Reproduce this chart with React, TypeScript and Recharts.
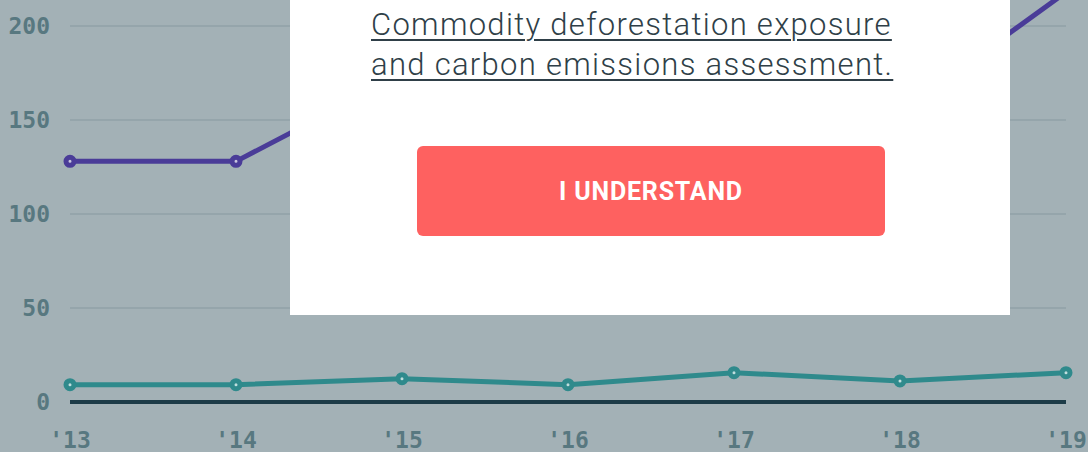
import React from "react";
import { LineChart, Line, XAxis, YAxis, CartesianGrid } from "recharts";

// years along the bottom axis
const years = ["'13", "'14", "'15", "'16", "'17", "'18", "'19"];
// upper (purple) series - middle values sit behind the notice and are estimates
const exposure = [128, 128, 174, 168, 160, 154, 218];
// lower (teal) series
const emissions = [9.2, 9.2, 12.4, 9.2, 15.6, 11.2, 15.6];
const yTicks = [0, 50, 100, 150, 200];

const data = years.map((year, i) => ({
  year,
  exposure: exposure[i],
  emissions: emissions[i],
}));

const BG = "#a3b1b6";
const PURPLE = "#4a3c98";
const TEAL = "#2f8a8c";
const TICK = "#587880";
const tickFont = { fontFamily: "DejaVu Sans Mono", fontWeight: 700, fontSize: 23, fill: TICK };

export default function App() {
  return (
    <div
      style={{
        position: "fixed",
        top: 0,
        left: 0,
        width: 1088,
        height: 452,
        overflow: "hidden",
        background: BG,
      }}
    >
      <div style={{ position: "absolute", top: -73, left: 0 }}>
        <LineChart width={1088} height={525} data={data} margin={{ top: 5, right: 22, bottom: 0, left: 0 }}>
          <CartesianGrid vertical={false} stroke="#95a5ab" strokeWidth={2} />
          <XAxis
            dataKey="year"
            interval={0}
            padding={{ left: 0, right: 0 }}
            height={50}
            tickLine={false}
            tickSize={0}
            tickMargin={30}
            axisLine={{ stroke: "#1d3c48", strokeWidth: 4 }}
            tick={tickFont}
          />
          <YAxis
            domain={[0, 250]}
            ticks={yTicks}
            width={70}
            axisLine={false}
            tickLine={false}
            tickSize={0}
            tickMargin={20}
            tick={tickFont}
          />
          <Line
            dataKey="exposure"
            stroke={PURPLE}
            strokeWidth={5}
            dot={{ r: 4, fill: "#c9c6e0", stroke: PURPLE, strokeWidth: 5 }}
            isAnimationActive={false}
          />
          <Line
            dataKey="emissions"
            stroke={TEAL}
            strokeWidth={5}
            dot={{ r: 4, fill: "#bfdede", stroke: TEAL, strokeWidth: 5 }}
            isAnimationActive={false}
          />
        </LineChart>
      </div>
      <div
        style={{
          position: "absolute",
          left: 290,
          top: 0,
          width: 720,
          height: 315,
          background: "#ffffff",
        }}
      >
        <div
          style={{
            position: "absolute",
            left: 81,
            top: 5,
            fontFamily: "Roboto",
            fontWeight: 300,
            fontSize: 31,
            letterSpacing: 1.3,
            lineHeight: "40px",
            color: "#2f3f48",
            textDecoration: "underline",
            textDecorationThickness: 2,
            textUnderlineOffset: 4,
            whiteSpace: "nowrap",
          }}
        >
          Commodity deforestation exposure
          <br />
          and carbon emissions assessment.
        </div>
        <div
          style={{
            position: "absolute",
            left: 127,
            top: 146,
            width: 468,
            height: 90,
            borderRadius: 6,
            background: "#fe6160",
            color: "#ffffff",
            fontFamily: "Roboto",
            fontWeight: 700,
            fontSize: 25,
            letterSpacing: 0.8,
            display: "flex",
            alignItems: "center",
            justifyContent: "center",
          }}
        >
          I UNDERSTAND
        </div>
      </div>
    </div>
  );
}
